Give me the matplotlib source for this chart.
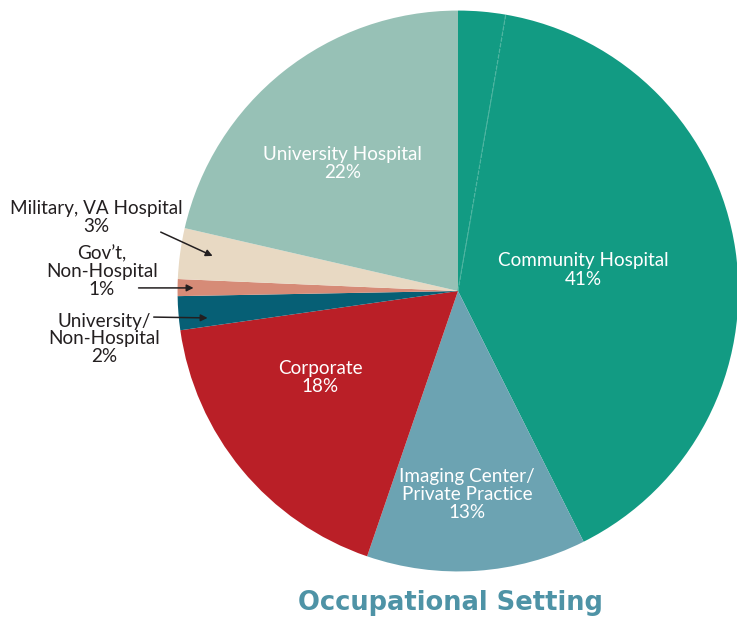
import numpy as np
import matplotlib
matplotlib.use("Agg")
import matplotlib.pyplot as plt

# ---- data ----
categories = ["", "Community Hospital", "Imaging Center/\nPrivate Practice", "Corporate",
              "University/\nNon-Hospital", "Gov’t,\nNon-Hospital", "Military, VA Hospital",
              "University Hospital"]
values = [2.8, 41, 13, 18, 2, 1, 3, 22]
pct_labels = ["", "41%", "13%", "18%", "2%", "1%", "3%", "22%"]
colors = ["#129B83", "#129B83", "#6CA3B2", "#BA1F27", "#065F75", "#D68B77", "#E8D9C3", "#97C1B6"]

W, H = 737, 619
cx, cy, R = 458, 291, 281
fig = plt.figure(figsize=(W / 100, H / 100), dpi=100)
ax = fig.add_axes([(cx - R) / W, (H - cy - R) / H, 2 * R / W, 2 * R / H])
wedges, _ = ax.pie(values, colors=colors, startangle=90, counterclock=False,
                   radius=1.0, wedgeprops=dict(linewidth=0))
ax.set_xlim(-1.002, 1.002)
ax.set_ylim(-1.002, 1.002)
ax.axis("off")

# faint separator at end of first small slice
t = np.deg2rad(wedges[0].theta1)
ax.plot([0, np.cos(t)], [0, np.sin(t)], color="#4FB5A1", lw=0.9, ls=(0, (3, 1.5)))

font = "Lato"
fs = 13.6
inner = {
    1: (0.448, 0.075),
    2: (0.032, -0.726),
    3: (-0.491, -0.31),
    7: (-0.413, 0.456),
}
for i, (x, y) in inner.items():
    ax.text(x, y, f"{categories[i]}\n{pct_labels[i]}", ha="center", va="center",
            color="white", fontsize=fs, family=font, linespacing=1.08)

outer = {
    6: ((-1.288, 0.263), (-1.060, 0.210), (-0.875, 0.125)),
    5: ((-1.27, 0.071), (-1.139, 0.011), (-0.943, 0.011)),
    4: ((-1.263, -0.171), (-1.085, -0.093), (-0.893, -0.096)),
}
for i, ((x, y), s, e) in outer.items():
    ax.text(x, y, f"{categories[i]}\n{pct_labels[i]}", ha="center", va="center",
            color="#231F20", fontsize=fs, family=font, linespacing=1.05)
    ax.annotate("", xy=e, xytext=s,
                arrowprops=dict(arrowstyle="-|>", color="#231F20", lw=1.1,
                                mutation_scale=10, shrinkA=0, shrinkB=0))

fig.text(450 / W, 1 - 603 / H, "Occupational Setting", ha="center", va="center",
         color="#4E93A6", fontsize=18.5, fontweight="bold", family="DejaVu Sans")

fig.savefig("out.png", dpi=100)
